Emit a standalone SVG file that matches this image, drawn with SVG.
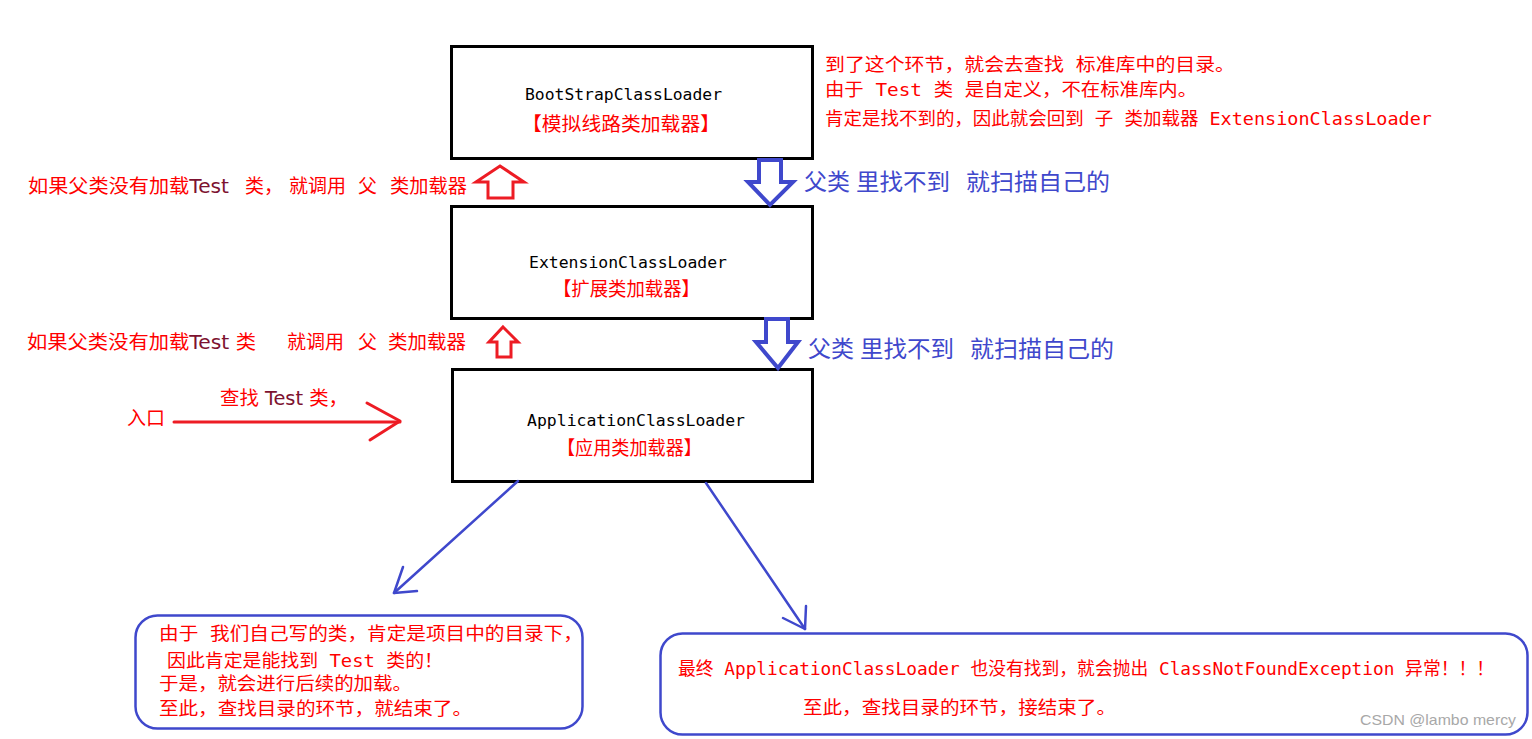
<svg xmlns="http://www.w3.org/2000/svg" width="1532" height="739" viewBox="0 0 1532 739">
<style>
.box{fill:#fff;stroke:#000;stroke-width:3}
.note{fill:#fff;stroke:#3F48CC;stroke-width:2.5}
.cls{font-family:"DejaVu Sans Mono","Noto Sans CJK SC",monospace;font-size:16.5px;fill:#000}
.zh{font-family:"Noto Sans CJK SC",sans-serif;font-size:19px;fill:#FF0000}
.red{font-family:"DejaVu Sans Mono","Noto Sans CJK SC",monospace;font-size:18px;fill:#FF0000}
.lft{font-family:"DejaVu Sans","Noto Sans CJK SC",sans-serif;font-size:19px;fill:#FF0000}
.dk{fill:#7D1230}
.blu{font-family:"Noto Sans CJK SC",sans-serif;font-size:23px;fill:#3F48CC}
.rarrow{fill:#fff;stroke:#ED1C24;stroke-width:3;stroke-linejoin:miter}
.barrow{fill:#fff;stroke:#3F48CC;stroke-width:4;stroke-linejoin:miter}
.bline{fill:none;stroke:#3F48CC;stroke-width:2.5;stroke-linecap:round;stroke-linejoin:round}
.rline{fill:none;stroke:#ED1C24;stroke-width:3;stroke-linecap:round;stroke-linejoin:round}
.wm{font-family:"Liberation Sans",Arial,sans-serif;font-size:15px;fill:#A8A8A8}
</style>
<rect width="1532" height="739" fill="#fff"/>

<g id="bootstrap">
<rect class="box" x="451.5" y="46.5" width="361" height="112"/>
<text class="cls" x="525" y="100" textLength="197" lengthAdjust="spacingAndGlyphs">BootStrapClassLoader</text>
<text class="zh" x="522" y="131" textLength="198" lengthAdjust="spacingAndGlyphs">【模拟线路类加载器】</text>
</g>

<g id="extension">
<rect class="box" x="451.5" y="206.5" width="361" height="112"/>
<text class="cls" x="529" y="268" textLength="198" lengthAdjust="spacingAndGlyphs">ExtensionClassLoader</text>
<text class="zh" x="553" y="296" textLength="147" lengthAdjust="spacingAndGlyphs">【扩展类加载器】</text>
</g>

<g id="application">
<rect class="box" x="452.5" y="369.5" width="360" height="112"/>
<text class="cls" x="527" y="426" textLength="218" lengthAdjust="spacingAndGlyphs">ApplicationClassLoader</text>
<text class="zh" x="557" y="455" textLength="145" lengthAdjust="spacingAndGlyphs">【应用类加载器】</text>
</g>

<g id="bootstrap-note">
<text class="red" x="825" y="71" textLength="410" lengthAdjust="spacingAndGlyphs">到了这个环节，就会去查找 标准库中的目录。</text>
<text class="red" x="825" y="96" textLength="372" lengthAdjust="spacingAndGlyphs">由于 Test 类 是自定义，不在标准库内。</text>
<text class="red" x="825" y="125" textLength="607" lengthAdjust="spacingAndGlyphs">肯定是找不到的，因此就会回到 子 类加载器 ExtensionClassLoader</text>
</g>

<g id="delegate-label-1">
<text class="lft" x="28" y="193" textLength="201" lengthAdjust="spacingAndGlyphs">如果父类没有加载<tspan class="dk">Test</tspan></text>
<text class="lft" x="245" y="193" textLength="38" lengthAdjust="spacingAndGlyphs">类，</text>
<text class="lft" x="289" y="193" textLength="57" lengthAdjust="spacingAndGlyphs">就调用</text>
<text class="lft" x="358" y="193" textLength="19" lengthAdjust="spacingAndGlyphs">父</text>
<text class="lft" x="390" y="193" textLength="77" lengthAdjust="spacingAndGlyphs">类加载器</text>
</g>

<g id="delegate-label-2">
<text class="lft" x="27" y="349" textLength="229" lengthAdjust="spacingAndGlyphs">如果父类没有加载<tspan class="dk">Test</tspan> 类</text>
<text class="lft" x="287" y="349" textLength="57" lengthAdjust="spacingAndGlyphs">就调用</text>
<text class="lft" x="358" y="349" textLength="19" lengthAdjust="spacingAndGlyphs">父</text>
<text class="lft" x="388" y="349" textLength="78" lengthAdjust="spacingAndGlyphs">类加载器</text>
</g>

<g id="fallback-label-1">
<text class="blu" x="804" y="190" textLength="46" lengthAdjust="spacingAndGlyphs">父类</text>
<text class="blu" x="856" y="190" textLength="94" lengthAdjust="spacingAndGlyphs">里找不到</text>
<text class="blu" x="966" y="190" textLength="144" lengthAdjust="spacingAndGlyphs">就扫描自己的</text>
</g>

<g id="fallback-label-2">
<text class="blu" x="808" y="357" textLength="46" lengthAdjust="spacingAndGlyphs">父类</text>
<text class="blu" x="860" y="357" textLength="94" lengthAdjust="spacingAndGlyphs">里找不到</text>
<text class="blu" x="970" y="357" textLength="144" lengthAdjust="spacingAndGlyphs">就扫描自己的</text>
</g>

<g id="entry">
<text class="lft" x="127" y="425" textLength="38" lengthAdjust="spacingAndGlyphs">入口</text>
<text class="lft" x="220" y="405" textLength="128" lengthAdjust="spacingAndGlyphs">查找 <tspan class="dk">Test</tspan> 类，</text>
</g>

<g id="found-note">
<rect class="note" x="135.5" y="615.5" width="447" height="113" rx="22" ry="22"/>
<text class="red" x="159" y="640" textLength="424" lengthAdjust="spacingAndGlyphs">由于 我们自己写的类，肯定是项目中的目录下，</text>
<text class="red" x="167" y="667" textLength="276" lengthAdjust="spacingAndGlyphs">因此肯定是能找到 Test 类的！</text>
<text class="red" x="159" y="690" textLength="253" lengthAdjust="spacingAndGlyphs">于是，就会进行后续的加载。</text>
<text class="red" x="159" y="715" textLength="313" lengthAdjust="spacingAndGlyphs">至此，查找目录的环节，就结束了。</text>
</g>

<g id="notfound-note">
<rect class="note" x="660.5" y="633.5" width="867" height="101" rx="22" ry="22"/>
<text class="red" x="678" y="675" textLength="816" lengthAdjust="spacingAndGlyphs">最终 ApplicationClassLoader 也没有找到，就会抛出 ClassNotFoundException 异常！！！</text>
<text class="red" x="803" y="714" textLength="313" lengthAdjust="spacingAndGlyphs">至此，查找目录的环节，接结束了。</text>
</g>

<g id="connectors">
<polygon class="rarrow" points="500,166 524,182 513,182 513,198 488,198 488,182 476,182"/>
<polygon class="rarrow" points="503,327 518,342 511,342 511,357 497,357 497,342 489,342"/>
<polygon class="barrow" points="759,160 781,160 781,182 793,182 770,205 748,182 759,182"/>
<polygon class="barrow" points="766,319 788,319 788,342 798,342 778,368 756,342 766,342"/>
<path class="rline" d="M174,422 L400,422"/>
<path class="rline" d="M367,403 L400,421 L370,440"/>
<path class="bline" d="M518,481 L394,593"/>
<path class="bline" d="M403,567 L394,593 L417,591"/>
<path class="bline" d="M706,483 L805,629"/>
<path class="bline" d="M783,618 L805,629 L806,606"/>
</g>

<text class="wm" x="1360" y="725" textLength="156" lengthAdjust="spacingAndGlyphs">CSDN @lambo mercy</text>
</svg>
